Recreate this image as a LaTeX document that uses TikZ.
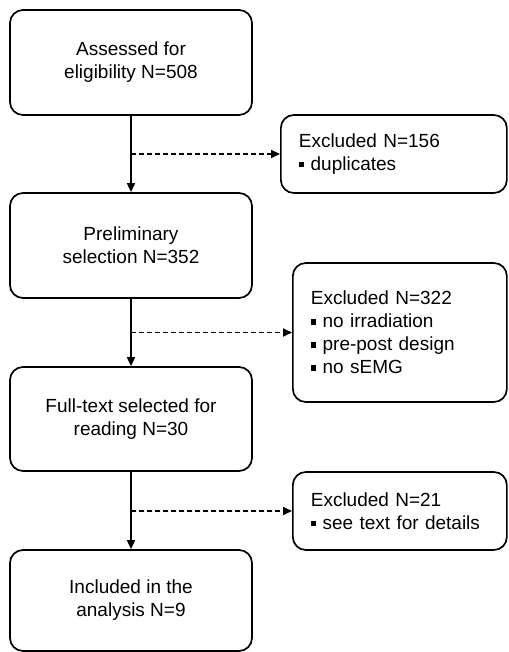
\documentclass[tikz,border=0pt]{standalone}
\usepackage{fontspec}
\setmainfont{Liberation Sans}
\usetikzlibrary{arrows.meta}
\newcommand{\bul}{\rule[0.17em]{0.27em}{0.27em}\hspace{0.35em}}
\begin{document}
\begin{tikzpicture}[x=1pt,y=-1pt,
  mainbox/.style={draw, line width=1.7pt, rounded corners=13pt, inner sep=0pt,
    minimum width=242pt, align=center, font=\fontsize{19}{23}\selectfont},
  exbox/.style={draw, line width=1.7pt, rounded corners=13pt, inner xsep=18pt, inner ysep=0pt,
    align=left, anchor=west, font=\fontsize{19}{23}\selectfont},
  flow/.style={line width=1.7pt, -{Triangle[length=9pt,width=8pt]}},
  exflow/.style={line width=1.7pt, dash pattern=on 5pt off 3pt, -{Triangle[length=9pt,width=8pt]}}
]
\useasboundingbox (0,0) rectangle (508,652);
\clip (0,0) rectangle (508,652);
\node[mainbox, minimum height=105pt] (b1) at (131,62.5) {Assessed for\\eligibility N=508};
\node[mainbox, minimum height=105pt] (b2) at (131,245.5) {Preliminary\\selection N=352};
\node[mainbox, minimum height=104pt] (b3) at (131,419) {Full-text selected for\\reading N=30};
\node[mainbox, minimum height=101pt] (b4) at (131,600.5) {Included in the\\analysis N=9};
\node[exbox, text width=190pt, minimum height=78pt] (e1) at (280,154) {Excluded N=156\\\bul duplicates};
\node[exbox, text width=178pt, minimum height=139pt] (e2) at (292,332.5) {Excluded N=322\\\bul no irradiation\\\bul pre-post design\\\bul no sEMG};
\node[exbox, text width=178pt, minimum height=78pt] (e3) at (292,511) {Excluded N=21\\\bul see text for details};
\draw[flow] (b1.south) -- (b2.north);
\draw[flow] (b2.south) -- (b3.north);
\draw[flow] (b3.south) -- (b4.north);
\draw[exflow] (b1.south |- e1.west) -- (e1.west);
\draw[exflow] (b2.south |- e2.west) -- (e2.west);
\draw[exflow] (b3.south |- e3.west) -- (e3.west);
\end{tikzpicture}
\end{document}
